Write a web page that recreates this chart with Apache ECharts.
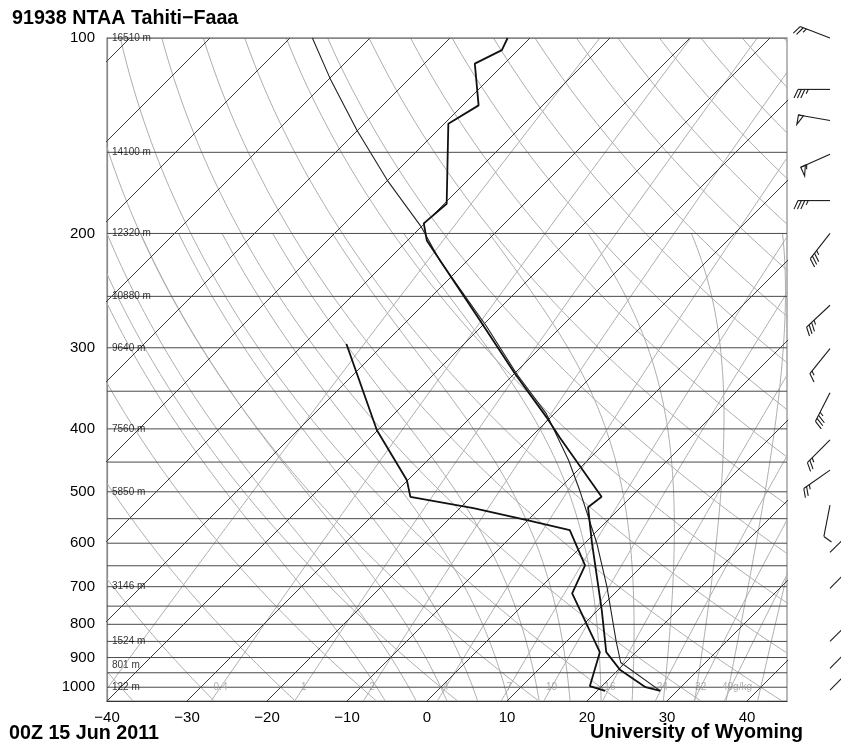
<!DOCTYPE html>
<html>
<head>
<meta charset="utf-8">
<script src="https://cdn.jsdelivr.net/npm/echarts@6/dist/echarts.min.js"></script>
<style>
html,body{margin:0;padding:0;background:#fff;}
#chart{width:841px;height:749px;}
</style>
</head>
<body>
<div id="chart"></div>
<script>
// ================= DATA =================
// Temperature profile (hPa, degC)
const tempP = [1013, 1000, 941, 883, 761, 600, 528, 509, 412, 384, 329, 272, 205, 193, 180, 135.5, 127, 109.5, 104.4, 100];
const tempC = [27.9, 25.6, 20.3, 16.3, 10.5, 0.9, -4.1, -3.7, -16.4, -20.5, -29.9, -41.0, -57.6, -60.1, -59.7, -69.5, -68.0, -73.7, -72.0, -72.8];
// Dew point profile
const dewP = [1013, 996, 883, 717, 649, 573, 553, 530, 509, 480, 402, 296];
const dewC = [21.0, 18.5, 15.5, 4.7, 2.8, -3.5, -10.1, -18.3, -27.6, -30.1, -40.1, -54.7];
// Lifted parcel trace
const parcelP = [1013, 916, 850, 700, 600, 500, 447, 379, 329, 278.5, 220, 195, 165.5, 138.7, 115.5, 100];
const parcelC = [27.9, 19.4, 16.2, 8.2, 1.5, -7.0, -12.4, -21.0, -29.7, -39.3, -53.5, -60.1, -70.1, -80.1, -89.9, -97.2];
// Wind barbs (hPa, direction deg, speed kt)
const windP   = [100, 120, 134, 151, 178, 200, 258, 301, 352, 416, 463, 524, 620, 704, 850, 935, 1010];
const windDir = [291, 270, 280, 246, 270, 218, 227, 219, 207, 225, 235, 191, 45, 45, 45, 45, 45];
const windKt  = [25, 35, 50, 55, 35, 35, 35, 15, 35, 25, 25, 10, 10, 10, 10, 10, 10];
// Axis ticks / labels
const pressureTicks = [100, 200, 300, 400, 500, 600, 700, 800, 900, 1000];
const tempTicks = [-40, -30, -20, -10, 0, 10, 20, 30, 40];
const isobars = [100, 150, 200, 250, 300, 350, 400, 450, 500, 550, 600, 650, 700, 750, 800, 850, 900, 950, 1000];
const heightP = [100, 150, 200, 250, 300, 400, 500, 700, 850, 925, 1000];
const heightLabels = ['16510 m', '14100 m', '12320 m', '10880 m', '9640 m', '7560 m', '5850 m', '3146 m', '1524 m', '801 m', '122 m'];
// Background diagram families
const isotherms = [-120, -110, -100, -90, -80, -70, -60, -50, -40, -30, -20, -10, 0, 10, 20, 30, 40];
const dryThetaC = [-40, -30, -20, -10, 0, 10, 20, 30, 40, 50, 60, 70, 80, 90, 100, 110, 120, 130, 140, 150, 160, 170, 180];
const moistThetaW = [-8, -4, 0, 4, 8, 12, 16, 20, 24, 28, 32, 36, 40, 44];
const MOIST_TOP = 200;
const mixingRatios = [0.1, 0.4, 1, 2, 4, 7, 10, 16, 24, 32, 40];
const mixingLabels = ['', '0.4', '1', '2', '4', '7', '10', '16', '24', '32', '40g/kg'];
const titleText = '91938 NTAA Tahiti\u2212Faaa';
const dateText = '00Z 15 Jun 2011';
const creditText = 'University of Wyoming';

// ================= LAYOUT =================
const G = {left: 107, right: 54, top: 38, bottom: 48};
const CW = 841, CH = 749;
const GW = CW - G.left - G.right, GH = CH - G.top - G.bottom;
const X_MIN = -40, X_MAX = 45, P_TOP = 100, P_BOT = 1050;
// skew (degC per decade of pressure) so that isotherms are at 45 degrees
const SKEW = (GH / Math.log10(P_BOT / P_TOP)) / (GW / (X_MAX - X_MIN));
const sx = (T, p) => T + SKEW * Math.log10(P_BOT / p);
const FONT = '"Liberation Sans", Arial, Helvetica, sans-serif';

// pressure levels used to trace curves
const levels = [];
for (let p = P_BOT; p >= P_TOP - 0.001; p -= 5) levels.push(p);

// thermodynamics helpers
const Rd = 287.04, Cp = 1005.7, Lv = 2.501e6, EPS = 0.622, KAP = Rd / Cp;
const es = Tc => 6.112 * Math.exp(17.67 * Tc / (Tc + 243.5));
function dTdp(p, T) {
  const e = es(T - 273.15);
  const rs = EPS * e / (p - e);
  return (1 / p) * (Rd * T + Lv * rs) / (Cp + (Lv * Lv * rs * EPS) / (Rd * T * T));
}
function rk4(p, T, h) {
  const k1 = dTdp(p, T), k2 = dTdp(p + h / 2, T + h / 2 * k1), k3 = dTdp(p + h / 2, T + h / 2 * k2), k4 = dTdp(p + h, T + h * k3);
  return T + h / 6 * (k1 + 2 * k2 + 2 * k3 + k4);
}
function moistCurve(twC, pTop) {
  const down = [];
  let T = twC + 273.15, p = 1000;
  while (p < P_BOT) { const h = Math.min(5, P_BOT - p); T = rk4(p, T, h); p += h; down.push([sx(T - 273.15, p), p]); }
  const pts = down.reverse();
  T = twC + 273.15; p = 1000;
  pts.push([sx(twC, 1000), 1000]);
  while (p > pTop + 0.001) { const h = -Math.min(5, p - pTop); T = rk4(p, T, h); p += h; pts.push([sx(T - 273.15, p), p]); }
  return pts;
}
function mixTd(wgkg, p) {
  const w = wgkg / 1000;
  const e = w * p / (EPS + w);
  const l = Math.log(e / 6.112);
  return 243.5 * l / (17.67 - l);
}

const GRAY = '#adadad';
const series = [];
const bg = (data, color, z, width) => ({
  type: 'line', data, showSymbol: false, symbol: 'none', silent: true, clip: true, z,
  lineStyle: {color, width: width || 1}, emphasis: {disabled: true}
});

// dry adiabats
dryThetaC.forEach(th => {
  const K = th + 273.15;
  series.push(bg(levels.map(p => [sx(K * Math.pow(p / 1000, KAP) - 273.15, p), p]), GRAY, 1));
});
// moist adiabats
moistThetaW.forEach(tw => series.push(bg(moistCurve(tw, MOIST_TOP), GRAY, 1)));
// mixing ratio lines
mixingRatios.forEach(w => series.push(bg(levels.map(p => [sx(mixTd(w, p), p), p]), GRAY, 1)));
// isotherms
isotherms.forEach(t => series.push(bg([[sx(t, P_BOT), P_BOT], [sx(t, P_TOP), P_TOP]], '#3a3a3a', 2)));
// isobars
isobars.forEach(p => series.push(bg([[X_MIN, p], [X_MAX, p]], '#4a4a4a', 2)));

// height labels on isobars
series.push({
  type: 'scatter', silent: true, z: 5, symbolSize: 0,
  data: heightP.map((p, i) => ({value: [X_MIN, p], name: heightLabels[i]})),
  label: {show: true, position: 'right', distance: 5, formatter: d => d.name,
          color: '#000', fontSize: 10, fontFamily: FONT}
});
// mixing ratio labels at 1000 hPa
series.push({
  type: 'scatter', silent: true, z: 5, symbolSize: 0,
  data: mixingRatios.map((w, i) => {
    const item = {value: [sx(mixTd(w, 1000), 1000), 1000], name: mixingLabels[i]};
    if (i === mixingRatios.length - 1) item.label = {align: 'left', offset: [-9, 0]};
    return item;
  }).filter(d => d.name !== ''),
  label: {show: true, position: 'inside', formatter: d => d.name,
          color: '#9a9a9a', fontSize: 10, fontFamily: FONT}
});

// profiles
const prof = (P, C, width, color) => ({
  type: 'line', data: P.map((p, i) => [sx(C[i], p), p]), showSymbol: false, symbol: 'none',
  silent: true, z: 8, clip: true, lineStyle: {color, width}, emphasis: {disabled: true}
});
series.push(prof(parcelP, parcelC, 1.1, '#222'));
series.push(prof(tempP, tempC, 1.8, '#111'));
series.push(prof(dewP, dewC, 1.8, '#111'));

// wind barbs
const BARB_OFFSET = 43, BARB_L = 32, BARB_F = 9.5, BARB_SP = 3.4;
series.push({
  type: 'custom', coordinateSystem: 'cartesian2d', silent: true, clip: false, z: 9,
  data: windP.map((p, i) => [X_MAX, p, windDir[i], windKt[i]]),
  encode: {x: 0, y: 1},
  renderItem: (params, api) => {
    const p = api.value(1), dir = api.value(2), kt = api.value(3);
    const pt = api.coord([X_MAX, p]);
    const bx = pt[0] + BARB_OFFSET, by = pt[1];
    const th = dir * Math.PI / 180;
    const d = [Math.sin(th), -Math.cos(th)];
    const n = [d[1], -d[0]];
    const S = s => [bx + d[0] * s, by + d[1] * s];
    const f = [(n[0] * 0.9 + d[0] * 0.42) * BARB_F, (n[1] * 0.9 + d[1] * 0.42) * BARB_F];
    const st = {stroke: '#1a1a1a', lineWidth: 1.1, fill: null};
    const ch = [];
    const tip = S(BARB_L);
    ch.push({type: 'line', shape: {x1: bx, y1: by, x2: tip[0], y2: tip[1]}, style: st});
    let spd = Math.round(kt / 5) * 5, pos = BARB_L;
    while (spd >= 50) {
      const a = S(pos), b = S(pos - 5);
      ch.push({type: 'polygon', shape: {points: [a, [a[0] + n[0] * BARB_F, a[1] + n[1] * BARB_F], b]}, style: st});
      pos -= 6.5; spd -= 50;
    }
    while (spd >= 10) {
      const a = S(pos);
      ch.push({type: 'line', shape: {x1: a[0], y1: a[1], x2: a[0] + f[0], y2: a[1] + f[1]}, style: st});
      pos -= BARB_SP; spd -= 10;
    }
    if (spd >= 5) {
      if (pos === BARB_L) pos -= BARB_SP;
      const a = S(pos);
      ch.push({type: 'line', shape: {x1: a[0], y1: a[1], x2: a[0] + f[0] / 2, y2: a[1] + f[1] / 2}, style: st});
    }
    return {type: 'group', children: ch};
  }
});

const fmtT = v => (v < 0 ? '\u2212' + Math.abs(v) : String(v));

const option = {
  animation: false,
  backgroundColor: '#fff',
  grid: {left: G.left, right: G.right, top: G.top, bottom: G.bottom, show: true,
         borderColor: '#8a8a8a', borderWidth: 1.2, containLabel: false},
  xAxis: {
    type: 'value', min: X_MIN, max: X_MAX, interval: 10,
    axisLine: {show: true, onZero: false, lineStyle: {color: '#333', width: 1.2}},
    axisTick: {show: false}, splitLine: {show: false},
    axisLabel: {color: '#000', fontSize: 15, fontFamily: FONT, margin: 9,
                formatter: v => (tempTicks.indexOf(v) >= 0 ? fmtT(v) : '')}
  },
  yAxis: {
    type: 'log', logBase: 10, min: P_TOP, max: P_BOT, inverse: true,
    axisLine: {show: true, onZero: false, lineStyle: {color: '#8a8a8a', width: 1.2}},
    axisTick: {show: false}, splitLine: {show: false}, minorSplitLine: {show: false},
    axisLabel: {color: '#000', fontSize: 15, fontFamily: FONT, margin: 12,
                customValues: pressureTicks, formatter: v => String(Math.round(v))}
  },
  graphic: [
    {type: 'text', left: 12, top: 9, style: {text: titleText, font: 'bold 19.7px ' + FONT, fill: '#000'}},
    {type: 'text', left: 9, top: 724, style: {text: dateText, font: 'bold 19.7px ' + FONT, fill: '#000'}},
    {type: 'text', left: 590, top: 723, style: {text: creditText, font: 'bold 19.7px ' + FONT, fill: '#000'}}
  ],
  series
};

const chart = echarts.init(document.getElementById('chart'), null, {renderer: 'canvas'});
chart.setOption(option);
</script>
</body>
</html>
